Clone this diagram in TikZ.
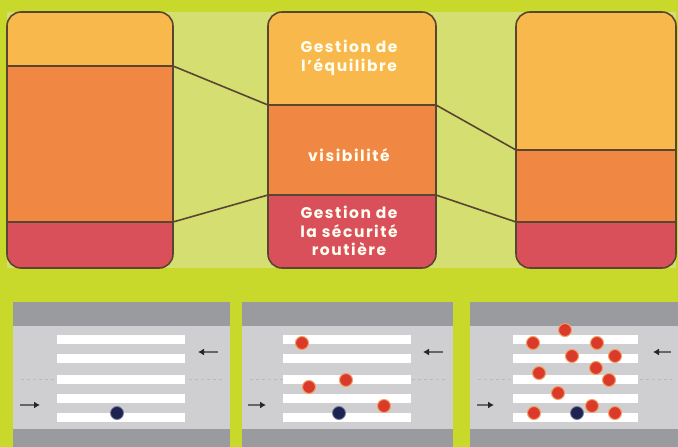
\documentclass[tikz,border=0pt]{standalone}
\usepackage{fontspec}
\setmainfont{Poppins}
\usepackage{tikz}
\usetikzlibrary{arrows.meta}

\definecolor{lime}{HTML}{C9D92B}
\definecolor{pale}{HTML}{D5DE70}
\definecolor{jaune}{HTML}{F9B84B}
\definecolor{orange}{HTML}{F08843}
\definecolor{rouge}{HTML}{D9505B}
\definecolor{trait}{HTML}{5A4630}
\definecolor{route}{HTML}{CFCFD1}
\definecolor{bord}{HTML}{9A9B9E}
\definecolor{bleu}{HTML}{1D2452}
\definecolor{pieton}{HTML}{D93A2A}

\tikzset{
  label/.style={text=white!94!yellow,align=center,
    font=\bfseries\fontsize{15.5}{18.5}\selectfont\addfontfeature{LetterSpace=10}},
  sep/.style={trait,line width=1.6pt},
  flux/.style={black!60,line width=1.8pt,-{Latex[length=6pt,width=7pt,black!85]}},
  bande/.style={white},
  rouge pt/.style={fill=pieton,draw=orange!80,line width=1pt},
  bleu pt/.style={fill=bleu,draw=bleu!60,line width=0.8pt}
}

\begin{document}
\begin{tikzpicture}[x=1pt,y=-1pt]
\useasboundingbox (0,0) rectangle (678,447);
\fill[lime] (0,0) rectangle (678,447);
\fill[pale] (7,12) rectangle (676,268);

% colonne gauche
\begin{scope}
\clip[rounded corners=14] (7,12) rectangle (173,268);
\fill[jaune] (7,12) rectangle (173,66);
\fill[orange] (7,66) rectangle (173,222);
\fill[rouge] (7,222) rectangle (173,268);
\end{scope}
\draw[sep,rounded corners=14] (7,12) rectangle (173,268);
\draw[sep] (7,66) -- (173,66);
\draw[sep] (7,222) -- (173,222);

% colonne milieu
\begin{scope}
\clip[rounded corners=14] (268,12) rectangle (436,268);
\fill[jaune] (268,12) rectangle (436,105);
\fill[orange] (268,105) rectangle (436,195);
\fill[rouge] (268,195) rectangle (436,268);
\end{scope}
\draw[sep,rounded corners=14] (268,12) rectangle (436,268);
\draw[sep] (268,105) -- (436,105);
\draw[sep] (268,195) -- (436,195);

% colonne droite
\begin{scope}
\clip[rounded corners=14] (516,12) rectangle (676,268);
\fill[jaune] (516,12) rectangle (676,150);
\fill[orange] (516,150) rectangle (676,222);
\fill[rouge] (516,222) rectangle (676,268);
\end{scope}
\draw[sep,rounded corners=14] (516,12) rectangle (676,268);
\draw[sep] (516,150) -- (676,150);
\draw[sep] (516,222) -- (676,222);

% liaisons
\coordinate (g1) at (173,66);
\coordinate (g2) at (173,222);
\coordinate (m1l) at (268,105);
\coordinate (m2l) at (268,195);
\coordinate (m1r) at (436,105);
\coordinate (m2r) at (436,195);
\coordinate (d1) at (516,150);
\coordinate (d2) at (516,222);
\draw[sep] (g1) -- (m1l);
\draw[sep] (g2) -- (m2l);
\draw[sep] (m1r) -- (d1);
\draw[sep] (m2r) -- (d2);

\node[label] (equil) at (349,58) {Gestion de\\l'équilibre};
\node[label] (visib) at (349,155) {visibilité};
\node[label] (secu) at (349,231) {Gestion de\\la sécurité\\routière};

% routes
\foreach \xa/\xb/\sa/\sb in {13/230/57/185, 242/453/283/411, 470/680/513/638} {
  \fill[route] (\xa,302) rectangle (\xb,447);
  \fill[bord] (\xa,302) rectangle (\xb,326);
  \fill[bord] (\xa,429) rectangle (\xb,447);
  \draw[route!90!black,dashed] (\xa+8,379) -- (\xb-8,379);
  \foreach \y in {339,358,379,398,417}
    \fill[bande] (\sa,\y-4.5) rectangle (\sb,\y+4.5);
}

% fleches
\foreach \xa/\xb/\xc/\xd in {20/40/218/198, 248/266/443/423, 477/494/671/653} {
  \draw[flux] (\xa,405) -- (\xb,405);
  \draw[flux] (\xc,352) -- (\xd,352);
}

% pietons
\foreach \px/\py in {302/343, 346/380, 309/387, 384/406,
  565/330, 533/343, 597/343, 572/356, 615/356, 596/368,
  539/373, 609/380, 558/393, 592/406, 534/413, 615/413}
  \fill[rouge pt] (\px,\py) circle (6.5);
\foreach \px in {117,339,577}
  \fill[bleu pt] (\px,413) circle (6.5);
\end{tikzpicture}
\end{document}
